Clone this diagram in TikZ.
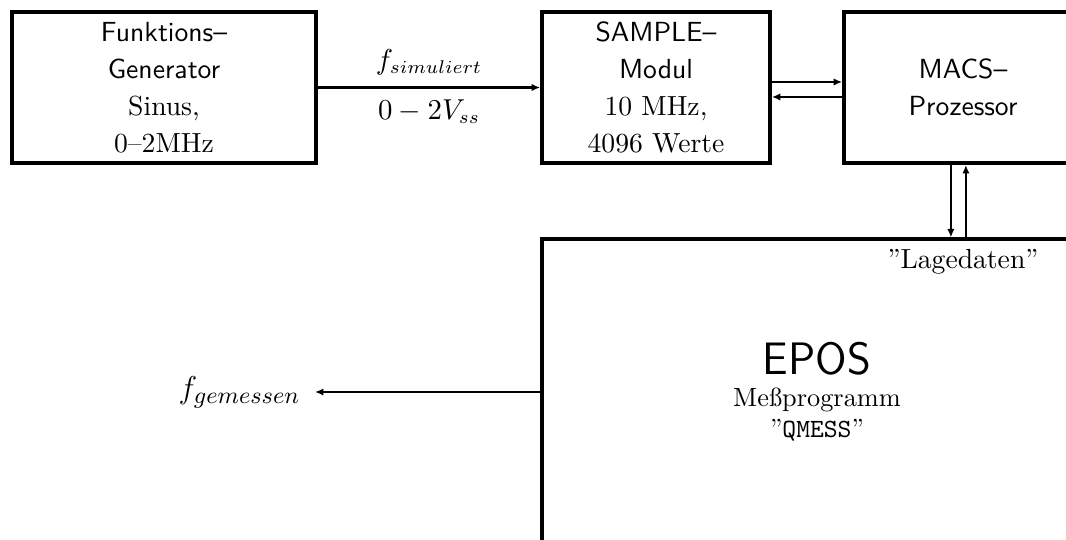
\documentclass[tikz,border=0pt]{standalone}
\usetikzlibrary{arrows.meta,positioning}
\tikzset{
  block/.style={draw, line width=1.5pt, align=center, inner sep=0pt, font=\fontsize{10.5}{13}\selectfont},
  lbl/.style={font=\fontsize{10.5}{13}\selectfont},
  arr/.style={-{Latex[length=3.2pt,width=2.8pt]}, line width=0.8pt}
}
\begin{document}
\begin{tikzpicture}[x=0.38pt, y=-0.38pt]
  \useasboundingbox (0,0) rectangle (1066,539);
  \clip (0,0) rectangle (1066,539);

  \node[block, minimum width=115.5pt, minimum height=57.4pt] (gen) at (164,87.5)
    {\textsf{Funktions--}\\[1pt] \textsf{Generator}\\[1pt] Sinus,\\[1pt] 0--2MHz};

  \node[block, minimum width=86.6pt, minimum height=57.4pt] (sample) at (656,87.5)
    {\textsf{SAMPLE--}\\[1pt] \textsf{Modul}\\[1pt] 10 MHz,\\[1pt] 4096 Werte};

  \node[block, minimum width=90.4pt, minimum height=57.4pt] (macs) at (963,87.5)
    {\textsf{MACS--}\\[1pt] \textsf{Prozessor}};

  \node[block, font=\fontsize{10}{12}\selectfont, minimum width=209pt, minimum height=116pt] (epos) at (817,392)
    {\textsf{\LARGE EPOS}\\ Meßprogramm\\ ''\texttt{QMESS}''};

  \coordinate (fout) at (315,392);

  \draw[arr] (gen) -- (sample)
    node[lbl, midway, above=1pt] {$f_{simuliert}$}
    node[lbl, midway, below=1pt] {$0-2V_{ss}$};
  \draw[arr] ([yshift=2.1pt]sample.east) -- ([yshift=2.1pt]macs.west);
  \draw[arr] ([yshift=-3.6pt]macs.west) -- ([yshift=-3.6pt]sample.east);
  \draw[arr] ([xshift=-4.6pt]macs.south) -- ([xshift=-4.6pt]macs.south |- epos.north);
  \draw[arr] ([xshift=1.1pt]macs.south |- epos.north) -- ([xshift=1.1pt]macs.south);
  \node[lbl, below=1pt] (lage) at (macs.south |- epos.north) {''Lagedaten''};

  \draw[arr] (epos.west |- fout) -- (fout);
  \node[font=\fontsize{13}{16}\selectfont, left=2pt] (fmess) at (fout) {$f_{gemessen}$};
\end{tikzpicture}
\end{document}
